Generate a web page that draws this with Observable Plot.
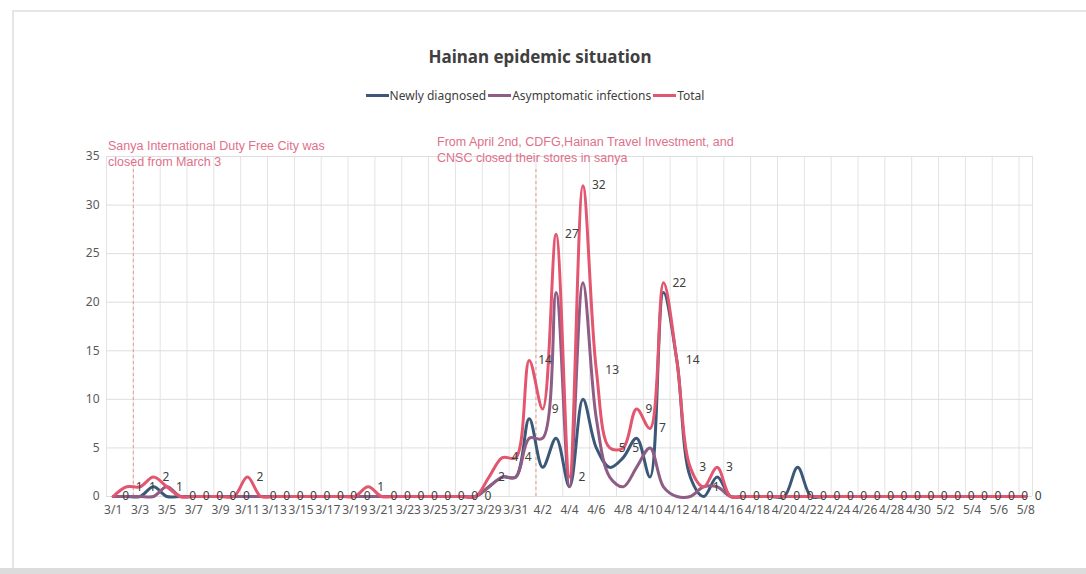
<!DOCTYPE html>
<html>
<head>
<meta charset="utf-8">
<script src="https://cdn.jsdelivr.net/npm/d3@7"></script>
<script src="https://cdn.jsdelivr.net/npm/@observablehq/plot@0.6"></script>
<style>
  html, body { margin: 0; padding: 0; background: #fff; }
  #frame { position: relative; width: 1086px; height: 574px; overflow: hidden; background: #fff; }
  #border { position: absolute; left: 12px; top: 10px; width: 1080px; height: 558px;
            border-left: 2px solid #e6e6e6; border-top: 2px solid #e6e6e6; }
  #bottombar { position: absolute; left: 0; top: 568px; width: 1086px; height: 6px; background: #dcdcdc; }
  #title { position: absolute; left: 0; top: 45px; width: 1080px; text-align: center;
           font: bold 17px "Noto Sans", "Open Sans", sans-serif; color: #404040; }
  #legend { position: absolute; left: 0; top: 87px; width: 1072px; display: flex; justify-content: center;
            align-items: center; font: 12px "Noto Sans", "Open Sans", sans-serif; color: #404040; }
  .sw { display: inline-block; width: 23px; height: 3px; margin-right: 1px; }
  .item { display: flex; align-items: center; margin-right: 2px; }
  .ann { position: absolute; font: 12.5px "Liberation Sans", Arial, sans-serif; color: #e0708a; line-height: 16px; }
  #chart { position: absolute; left: 0; top: 130px; }
</style>
</head>
<body>
<div id="frame">
  <div id="border"></div>
  <div id="bottombar"></div>
  <div id="title"></div>
  <div id="legend"></div>
  <div id="chart"></div>
</div>
<script>
const dates = [
  "3/1","3/2","3/3","3/4","3/5","3/6","3/7","3/8","3/9","3/10",
  "3/11","3/12","3/13","3/14","3/15","3/16","3/17","3/18","3/19","3/20",
  "3/21","3/22","3/23","3/24","3/25","3/26","3/27","3/28","3/29","3/30",
  "3/31","4/1","4/2","4/3","4/4","4/5","4/6","4/7","4/8","4/9",
  "4/10","4/11","4/12","4/13","4/14","4/15","4/16","4/17","4/18","4/19",
  "4/20","4/21","4/22","4/23","4/24","4/25","4/26","4/27","4/28","4/29",
  "4/30","5/1","5/2","5/3","5/4","5/5","5/6","5/7","5/8"
];
const newlyDiagnosed = [
  0,0,0,1,0,0,0,0,0,0,
  0,0,0,0,0,0,0,0,0,0,
  0,0,0,0,0,0,0,0,1,2,
  2,8,3,6,1,10,5,3,4,6,
  2,21,14,2,0,2,0,0,0,0,
  0,3,0,0,0,0,0,0,0,0,
  0,0,0,0,0,0,0,0,0
];
const asymptomatic = [
  0,0,0,0,1,0,0,0,0,0,
  0,0,0,0,0,0,0,0,0,0,
  0,0,0,0,0,0,0,0,1,2,
  2,6,6,21,1,22,8,2,1,3,
  5,1,0,0,1,1,0,0,0,0,
  0,0,0,0,0,0,0,0,0,0,
  0,0,0,0,0,0,0,0,0
];
const total = [
  0,1,1,2,1,0,0,0,0,0,
  2,0,0,0,0,0,0,0,0,1,
  0,0,0,0,0,0,0,0,2,4,
  4,14,9,27,2,32,13,5,5,9,
  7,22,14,3,1,3,0,0,0,0,
  0,0,0,0,0,0,0,0,0,0,
  0,0,0,0,0,0,0,0,0
];
const seriesNames = ["Newly diagnosed", "Asymptomatic infections", "Total"];
const seriesColors = ["#3b5878", "#8e5c84", "#e2566f"];
const yTicks = [0, 5, 10, 15, 20, 25, 30, 35];
const eventDates = ["3/3", "4/2"];
const eventTexts = [
  ["Sanya International Duty Free City was", "closed from March 3"],
  ["From April 2nd, CDFG,Hainan Travel Investment, and", "CNSC closed their stores in sanya"]
];
const titleText = "Hainan epidemic situation";

// title & legend
document.getElementById("title").textContent = titleText;
const legend = document.getElementById("legend");
seriesNames.forEach((n, k) => {
  const it = document.createElement("span");
  it.className = "item";
  const sw = document.createElement("span");
  sw.className = "sw";
  sw.style.background = seriesColors[k];
  it.appendChild(sw);
  it.appendChild(document.createTextNode(n));
  legend.appendChild(it);
});

// annotations
const annLeft = [108, 437];
const annTop = [138, 134];
eventTexts.forEach((lines, k) => {
  const d = document.createElement("div");
  d.className = "ann";
  d.style.left = annLeft[k] + "px";
  d.style.top = annTop[k] + "px";
  d.innerHTML = lines.join("<br>");
  document.getElementById("frame").appendChild(d);
});

const idx = dates.map((d, i) => i);
const rows = [];
[newlyDiagnosed, asymptomatic, total].forEach((arr, k) => {
  arr.forEach((v, i) => rows.push({i, v, s: seriesNames[k]}));
});
const totalRows = total.map((v, i) => ({i, v}));
const evenTicks = idx.filter(i => i % 2 === 0);
const gridLines = evenTicks.map(i => i - 0.5).concat([dates.length - 0.5]);
const eventIdx = eventDates.map(d => dates.indexOf(d) - 0.5);

const chart = Plot.plot({
  width: 1086,
  height: 400,
  marginLeft: 106,
  marginRight: 54,
  marginTop: 26,
  marginBottom: 34,
  style: {fontFamily: "'Noto Sans', 'Open Sans', sans-serif", fontSize: "12px", color: "#595959", background: "transparent", overflow: "visible"},
  x: {domain: [-0.5, dates.length - 0.5], ticks: evenTicks, tickFormat: i => dates[i], tickSize: 0, tickPadding: 9, label: null},
  y: {domain: [0, 35], ticks: yTicks, tickSize: 0, tickPadding: 7, label: null},
  color: {domain: seriesNames, range: seriesColors},
  marks: [
    Plot.ruleX(gridLines, {stroke: "#e3e3e3", strokeWidth: 1}),
    Plot.ruleY(yTicks, {stroke: "#dedede", strokeWidth: 1}),
    Plot.ruleX(eventIdx, {y1: 0, y2: 34, stroke: "#e8a89a", strokeWidth: 1.2, strokeDasharray: "3,3"}),
    Plot.line(rows, {x: "i", y: "v", z: "s", stroke: "s", strokeWidth: 3, curve: "catmull-rom"}),
    Plot.text(totalRows, {x: "i", y: "v", text: d => String(d.v), textAnchor: "start", dx: 9, fill: "#404040", fontSize: 12}),
    Plot.axisX({ticks: evenTicks, tickFormat: i => dates[i], tickSize: 0, tickPadding: 9, fill: "#595959"}),
    Plot.axisY({ticks: yTicks, tickSize: 0, tickPadding: 7, fill: "#595959"})
  ]
});
document.getElementById("chart").appendChild(chart);
</script>
</body>
</html>
